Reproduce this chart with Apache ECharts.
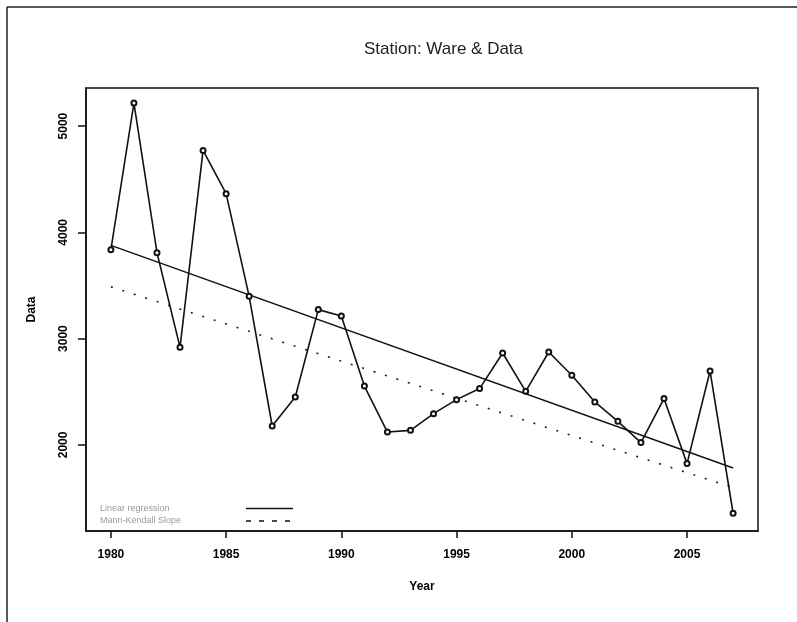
<!DOCTYPE html>
<html>
<head>
<meta charset="utf-8">
<script src="https://cdn.jsdelivr.net/npm/echarts@6/dist/echarts.min.js"></script>
<style>
html,body{margin:0;padding:0;background:#fff;}
#chart{width:797px;height:622px;}
</style>
</head>
<body>
<div id="chart"></div>
<script>
// ---- data ----
const years = [1980,1981,1982,1983,1984,1985,1986,1987,1988,1989,1990,1991,1992,1993,1994,1995,1996,1997,1998,1999,2000,2001,2002,2003,2004,2005,2006,2007];
const values = [3837,5216,3809,2918,4771,4364,3398,2178,2451,3273,3213,2554,2121,2137,2294,2426,2530,2865,2504,2874,2655,2404,2222,2022,2436,1824,2695,1357];
const trendYears = [1980, 2007];
const regressionValues = [3878, 1783];
const mannKendallValues = [3488, 1599];
const xTickValues = [1980, 1985, 1990, 1995, 2000, 2005];
const yTickValues = [2000, 3000, 4000, 5000];
const titleText = 'Station: Ware & Data';
const xName = 'Year';
const yName = 'Data';
const legendNames = ['Linear regression', 'Mann-Kendall Slope'];

const chart = echarts.init(document.getElementById('chart'), null, {renderer: 'canvas'});
const pairs = (xs, ys) => xs.map((x, i) => [x, ys[i]]);
const labelFont = {fontFamily: 'Liberation Sans, Arial, sans-serif', fontWeight: 'bold', fontSize: 12, color: '#000'};
const plain = v => String(Math.round(v));

chart.setOption({
  animation: false,
  backgroundColor: '#fff',
  title: {
    text: titleText,
    left: 359, top: 36,
    textStyle: {fontFamily: 'Liberation Sans, Arial, sans-serif', fontWeight: 'normal', fontSize: 17, color: '#222'}
  },
  grid: {
    left: 86, right: 39, top: 88, bottom: 91,
    show: true, borderColor: '#111', borderWidth: 1.5, backgroundColor: 'transparent'
  },
  xAxis: {
    type: 'value',
    min: 1978.92, max: 2008.08,
    name: xName, nameLocation: 'middle', nameGap: 50,
    nameTextStyle: Object.assign({}, labelFont, {fontSize: 12}),
    axisLine: {show: true, onZero: false, lineStyle: {color: '#111', width: 1.5}},
    axisTick: {show: true, length: 7, customValues: xTickValues, lineStyle: {color: '#111', width: 1.5}},
    axisLabel: Object.assign({customValues: xTickValues, margin: 18, formatter: plain}, labelFont),
    splitLine: {show: false}
  },
  yAxis: {
    type: 'value',
    min: 1190, max: 5358,
    name: yName, nameLocation: 'middle', nameGap: 48, nameRotate: 90,
    nameTextStyle: Object.assign({}, labelFont, {fontSize: 12}),
    axisLine: {show: true, onZero: false, lineStyle: {color: '#111', width: 1.5}},
    axisTick: {show: true, length: 8, customValues: yTickValues, lineStyle: {color: '#111', width: 1.5}},
    axisLabel: Object.assign({customValues: yTickValues, margin: 16, rotate: 90, formatter: plain}, labelFont),
    splitLine: {show: false}
  },
  series: [
    {
      type: 'line',
      data: pairs(years, values),
      symbol: 'emptyCircle', symbolSize: 5,
      lineStyle: {color: '#111', width: 1.6},
      itemStyle: {color: '#111', borderColor: '#111', borderWidth: 1.1},
      z: 3
    },
    {
      type: 'line',
      data: pairs(trendYears, regressionValues),
      symbol: 'none',
      lineStyle: {color: '#111', width: 1.4},
      z: 2
    },
    {
      type: 'line',
      data: pairs(trendYears, mannKendallValues),
      symbol: 'none',
      lineStyle: {color: '#222', width: 1.6, type: [2, 10]},
      z: 2
    }
  ],
  graphic: [
    {type: 'line', shape: {x1: 7, y1: 7, x2: 797, y2: 7}, style: {stroke: '#222', lineWidth: 1.5}},
    {type: 'line', shape: {x1: 7, y1: 7, x2: 7, y2: 622}, style: {stroke: '#222', lineWidth: 1.5}},
    {type: 'text', left: 100, top: 504, style: {text: legendNames[0], fill: '#9a9a9a', font: '9px Liberation Sans, Arial, sans-serif'}},
    {type: 'text', left: 100, top: 516, style: {text: legendNames[1], fill: '#9a9a9a', font: '9px Liberation Sans, Arial, sans-serif'}},
    {type: 'line', shape: {x1: 246, y1: 508.5, x2: 293, y2: 508.5}, style: {stroke: '#111', lineWidth: 1.5}},
    {type: 'line', shape: {x1: 246, y1: 521, x2: 293, y2: 521}, style: {stroke: '#111', lineWidth: 1.5, lineDash: [5, 8]}}
  ]
});
</script>
</body>
</html>
